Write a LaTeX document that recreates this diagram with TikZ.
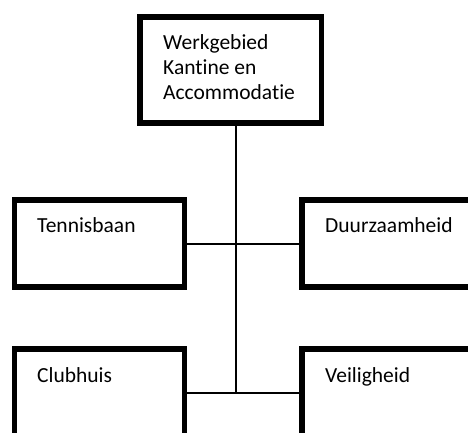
\documentclass[tikz,border=0pt]{standalone}
\usepackage{fontspec}
\setmainfont[RawFeature={-liga}]{Carlito}
\begin{document}
\begin{tikzpicture}[x=1pt,y=-1pt,
                        box/.style={shape=rectangle,draw,line width=5.5pt,inner sep=0pt,minimum width=170pt,minimum height=87pt},
                        boxtext/.style={anchor=base west,inner sep=0pt,align=left,font=\fontsize{21.5}{25}\selectfont},
                        link/.style={line width=2pt}
                        ]
                        \useasboundingbox (0,0) rectangle (468,433);
                        \clip (0,0) rectangle (468,433);
                        %Werkgebied
                        \node [box,minimum width=181.5pt,minimum height=106pt] (werkgebied) at (230.75,70) {};
                        \node [boxtext] (werkgebiedtext) at (163,100) {Werkgebied\\Kantine en\\Accommodatie};
                        %Tennisbaan en Duurzaamheid
                        \node [box] (tennisbaan) at (99.5,243.5) {};
                        \node [boxtext] (tennisbaantext) at (37,232) {Tennisbaan};
                        \node [box,minimum width=180pt] (duurzaamheid) at (392,243.5) {};
                        \node [boxtext] (duurzaamheidtext) at (325,232) {Duurzaamheid};
                        %Clubhuis en Veiligheid
                        \node [box] (clubhuis) at (99.5,392.5) {};
                        \node [boxtext] (clubhuistext) at (37,382) {Clubhuis};
                        \node [box,minimum width=180pt] (veiligheid) at (392,392.5) {};
                        \node [boxtext] (veiligheidtext) at (325,382) {Veiligheid};
                        %Verbindingen
                        \coordinate (spine) at (235.5,0);
                        \draw [link] (spine |- werkgebied.south) -- (spine |- clubhuis.east);
                        \draw [link] (tennisbaan.east) -- (duurzaamheid.west);
                        \draw [link] (clubhuis.east) -- (veiligheid.west);
                \end{tikzpicture}
\end{document}
